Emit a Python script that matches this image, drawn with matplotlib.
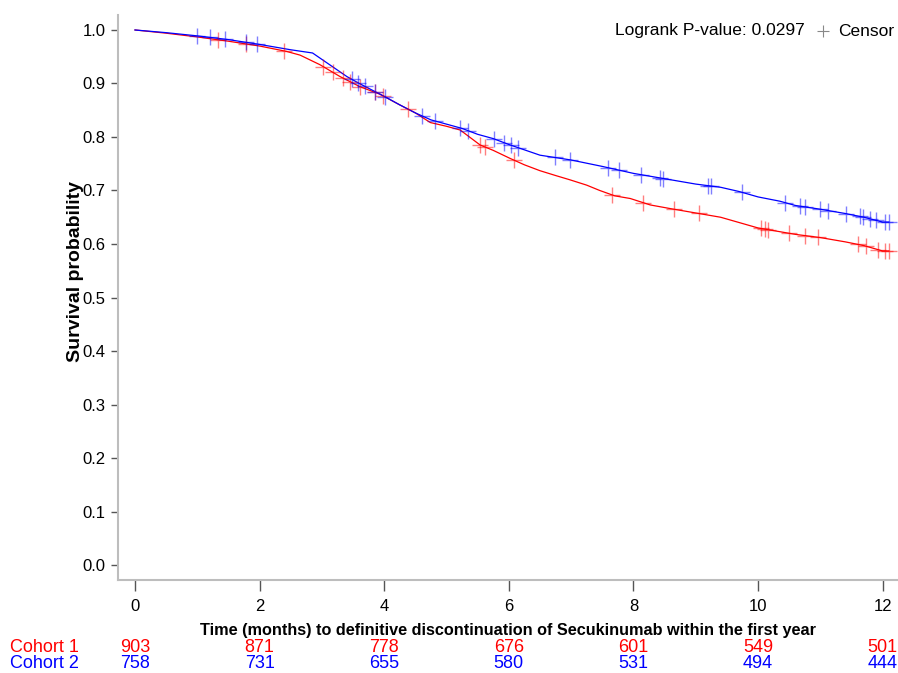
import numpy as np
import matplotlib
matplotlib.use("Agg")
import matplotlib.pyplot as plt

# ---------------- data ----------------
c1_time = [0, 0.5, 1.0, 1.5, 2.0, 2.43, 2.65, 2.97, 3.29, 3.61, 3.93, 4.25, 4.5, 4.74,
           5.0, 5.22, 5.54, 5.75, 6.02, 6.25, 6.5, 6.75, 6.98, 7.25, 7.46, 7.7, 7.95,
           8.27, 8.6, 9.0, 9.4, 9.7, 10.0, 10.35, 10.6, 11.0, 11.4, 11.7, 12.0, 12.1]
c1_surv = [1.0, 0.994, 0.987, 0.979, 0.970, 0.960, 0.953, 0.935, 0.913, 0.894, 0.880,
           0.860, 0.845, 0.827, 0.820, 0.813, 0.785, 0.775, 0.760, 0.748, 0.737, 0.728,
           0.720, 0.710, 0.700, 0.690, 0.685, 0.673, 0.666, 0.658, 0.650, 0.640, 0.630,
           0.623, 0.618, 0.612, 0.604, 0.597, 0.587, 0.587]

c2_time = [0, 0.5, 1.0, 1.5, 2.0, 2.5, 2.85, 3.0, 3.2, 3.4, 3.6, 3.8, 4.0, 4.25, 4.5,
           4.75, 5.0, 5.25, 5.5, 5.75, 6.0, 6.25, 6.5, 7.0, 7.5, 8.0, 8.3, 8.6, 9.0,
           9.4, 9.7, 10.0, 10.35, 10.6, 11.0, 11.4, 11.7, 12.0, 12.1]
c2_surv = [1.0, 0.995, 0.989, 0.982, 0.973, 0.963, 0.957, 0.945, 0.929, 0.913, 0.900,
           0.888, 0.876, 0.860, 0.845, 0.832, 0.824, 0.816, 0.805, 0.797, 0.786, 0.776,
           0.766, 0.757, 0.745, 0.732, 0.726, 0.720, 0.712, 0.706, 0.698, 0.688, 0.680,
           0.672, 0.665, 0.657, 0.650, 0.641, 0.641]

c1_censor = [1.33, 1.78, 2.39, 3.02, 3.18, 3.34, 3.45, 3.61, 3.85, 3.98, 4.38, 5.54,
             5.62, 6.08, 7.66, 8.15, 8.65, 9.05, 10.05, 10.11, 10.16, 10.49, 10.76,
             10.96, 11.6, 11.73, 11.93, 12.04, 12.1]
c2_censor = [0.99, 1.21, 1.44, 1.78, 1.96, 3.48, 3.58, 3.69, 3.85, 4.01, 4.6, 4.82,
             5.22, 5.35, 5.76, 5.92, 6.03, 6.15, 6.74, 6.99, 7.59, 7.77, 8.12, 8.42,
             8.48, 9.2, 9.24, 9.75, 10.43, 10.67, 10.76, 11.0, 11.12, 11.41, 11.63,
             11.69, 11.8, 11.9, 12.04, 12.1]

x_ticks = [0, 2, 4, 6, 8, 10, 12]
y_ticks = [0.0, 0.1, 0.2, 0.3, 0.4, 0.5, 0.6, 0.7, 0.8, 0.9, 1.0]
risk_c1 = [903, 871, 778, 676, 601, 549, 501]
risk_c2 = [758, 731, 655, 580, 531, 494, 444]
group_names = ["Cohort 1", "Cohort 2"]
pvalue_text = "Logrank P-value: 0.0297"
x_label = "Time (months) to definitive discontinuation of Secukinumab within the first year"
y_label = "Survival probability"

RED = "#ff0000"
BLUE = "#0000ff"

plt.rcParams['font.family'] = ['Liberation Sans', 'DejaVu Sans']

W, H = 898, 673
fig = plt.figure(figsize=(W / 100, H / 100), dpi=100)
ax = fig.add_axes([118 / W, 93 / H, (898 - 118) / W, (580 - 15) / H])

ax.plot(c1_time, c1_surv, color=RED, lw=0.9)
ax.plot(c2_time, c2_surv, color=BLUE, lw=0.9)
ax.plot(c1_censor, np.interp(c1_censor, c1_time, c1_surv), ls='none', marker='+',
        ms=12, mew=1.0, color=RED, alpha=0.5)
ax.plot(c2_censor, np.interp(c2_censor, c2_time, c2_surv), ls='none', marker='+',
        ms=12, mew=1.0, color=BLUE, alpha=0.5)

ax.set_xlim(-0.273, 12.247)
ax.set_ylim(-0.028, 1.028)
ax.set_xticks(x_ticks)
ax.set_xticklabels([str(v) for v in x_ticks])
ax.set_yticks(y_ticks)
ax.set_yticklabels([f"{v:.1f}" for v in y_ticks])
for s in ['top', 'right']:
    ax.spines[s].set_visible(False)
for s in ['left', 'bottom']:
    ax.spines[s].set_color('#bdbdbd')
    ax.spines[s].set_linewidth(1.5)
ax.tick_params(axis='both', colors='#555555', labelcolor='black', labelsize=12,
               width=1.0)
ax.tick_params(axis='x', length=8, pad=6)
ax.tick_params(axis='y', length=5, pad=4)

fig.text(75 / W, 1 - 272 / H, y_label, fontsize=14, fontweight='bold',
         rotation=90, ha='center', va='center')

fig.text(508 / W, 1 - 630 / H, x_label, fontsize=11.7, fontweight='bold',
         ha='center', va='center')

# legend-like text
fig.text(805 / W, 1 - 31 / H, pvalue_text, fontsize=12.5, ha='right', va='center')
ax.plot([823 / W], [1 - 31 / H], transform=fig.transFigure, marker='+', ms=8,
        mew=0.8, color='#888888', clip_on=False)
fig.text(838 / W, 1 - 31 / H, "Censor", fontsize=12.5, ha='left', va='center')

# risk table
for row, (name, vals, col) in enumerate([(group_names[0], risk_c1, RED),
                                          (group_names[1], risk_c2, BLUE)]):
    yy = 1 - (648 + 15.5 * row) / H
    fig.text(10 / W, yy, name, fontsize=13, color=col, ha='left', va='center')
    for xv, v in zip(x_ticks, vals):
        xf = fig.transFigure.inverted().transform(ax.transData.transform((xv, 0)))[0]
        fig.text(xf, yy, str(v), fontsize=13, color=col, ha='center', va='center')

fig.savefig("out.png", dpi=100)
